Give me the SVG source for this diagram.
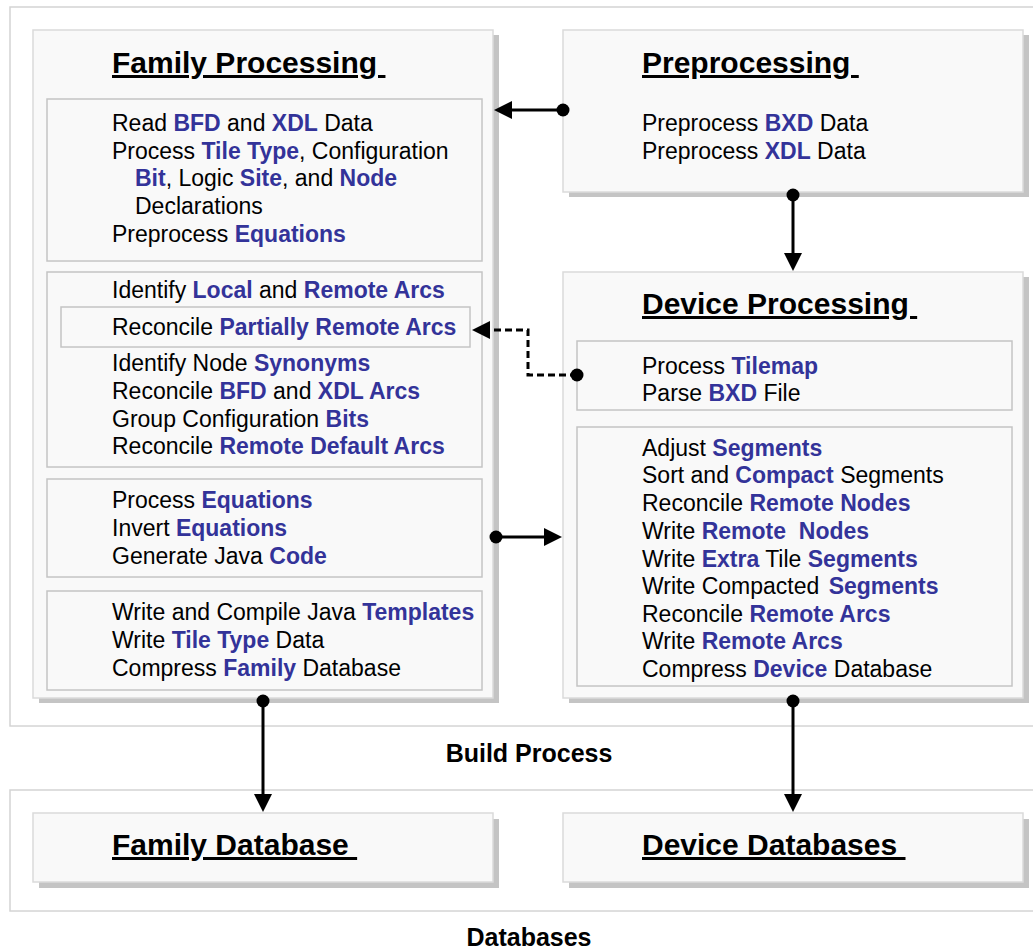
<svg xmlns="http://www.w3.org/2000/svg" width="1033" height="950" viewBox="0 0 1033 950">
<style>
text{font-family:"Liberation Sans",Arial,sans-serif;fill:#000}
.t{font-size:23px}
.b{font-weight:bold;fill:#333399}
.h{font-size:30px;font-weight:bold;text-decoration:underline}
.lbl{font-size:25px;font-weight:bold}
.frame{fill:#fff;stroke:#d4d4d4;stroke-width:1.5}
.box{fill:#f9f9f9;stroke:#dadada;stroke-width:1.5}
.sub{fill:#f9f9f9;stroke:#c4c4c4;stroke-width:1.5}
.sh{fill:#c4c4c4}
.c{fill:none;stroke:#000;stroke-width:3}
.d{stroke-dasharray:7,4}
</style>
<defs>
<marker id="arr" markerUnits="userSpaceOnUse" viewBox="0 0 18 18" refX="0" refY="9" markerWidth="18" markerHeight="18" orient="auto">
<path d="M0,0 L18,9 L0,18 z" fill="#000"/>
</marker>
<marker id="dot" markerUnits="userSpaceOnUse" viewBox="0 0 14 14" refX="7" refY="7" markerWidth="14" markerHeight="14">
<circle cx="7" cy="7" r="6.5" fill="#000"/>
</marker>
</defs>

<g id="build-frame">
<rect class="frame" x="10" y="7" width="1035" height="719"/>
<text class="lbl" x="529" y="762" text-anchor="middle">Build Process</text>
</g>
<g id="databases-frame">
<rect class="frame" x="10" y="790" width="1035" height="121"/>
<text class="lbl" x="529" y="946" text-anchor="middle">Databases</text>
</g>

<g id="family-processing">
<rect class="sh" x="39" y="35" width="460" height="668"/>
<rect class="box" x="33" y="30" width="460" height="668"/>
<text class="h" x="112" y="73">Family Processing&#160;</text>
<rect class="sub" x="47" y="99" width="435" height="162"/>
<text class="t" x="112" y="131">Read <tspan class="b">BFD</tspan> and <tspan class="b">XDL</tspan> Data</text>
<text class="t" x="112" y="159">Process <tspan class="b">Tile Type</tspan>, Configuration</text>
<text class="t" x="135" y="186"><tspan class="b">Bit</tspan>, Logic <tspan class="b">Site</tspan>, and <tspan class="b">Node</tspan></text>
<text class="t" x="135" y="214">Declarations</text>
<text class="t" x="112" y="242">Preprocess <tspan class="b">Equations</tspan></text>
<rect class="sub" x="47" y="272" width="435" height="195"/>
<text class="t" x="112" y="298">Identify <tspan class="b">Local</tspan> and <tspan class="b">Remote Arcs</tspan></text>
<rect class="sub" x="61" y="307" width="409" height="40"/>
<text class="t" x="112" y="335">Reconcile <tspan class="b">Partially Remote Arcs</tspan></text>
<text class="t" x="112" y="371">Identify Node <tspan class="b">Synonyms</tspan></text>
<text class="t" x="112" y="399">Reconcile <tspan class="b">BFD</tspan> and <tspan class="b">XDL Arcs</tspan></text>
<text class="t" x="112" y="427">Group Configuration <tspan class="b">Bits</tspan></text>
<text class="t" x="112" y="454">Reconcile <tspan class="b">Remote Default Arcs</tspan></text>
<rect class="sub" x="47" y="479" width="435" height="98"/>
<text class="t" x="112" y="508">Process <tspan class="b">Equations</tspan></text>
<text class="t" x="112" y="536">Invert <tspan class="b">Equations</tspan></text>
<text class="t" x="112" y="564">Generate Java <tspan class="b">Code</tspan></text>
<rect class="sub" x="47" y="591" width="435" height="99"/>
<text class="t" x="112" y="620">Write and Compile Java <tspan class="b">Templates</tspan></text>
<text class="t" x="112" y="648">Write <tspan class="b">Tile Type</tspan> Data</text>
<text class="t" x="112" y="676">Compress <tspan class="b">Family</tspan> Database</text>
</g>

<g id="preprocessing">
<rect class="sh" x="569" y="35" width="460" height="162"/>
<rect class="box" x="563" y="30" width="460" height="162"/>
<text class="h" x="642" y="73">Preprocessing&#160;</text>
<text class="t" x="642" y="131">Preprocess <tspan class="b">BXD</tspan> Data</text>
<text class="t" x="642" y="159">Preprocess <tspan class="b">XDL</tspan> Data</text>
</g>

<g id="device-processing">
<rect class="sh" x="569" y="277" width="460" height="426"/>
<rect class="box" x="563" y="272" width="460" height="426"/>
<text class="h" x="642" y="314">Device Processing&#160;</text>
<rect class="sub" x="577" y="341" width="435" height="69"/>
<text class="t" x="642" y="374">Process <tspan class="b">Tilemap</tspan></text>
<text class="t" x="642" y="401">Parse <tspan class="b">BXD</tspan> File</text>
<rect class="sub" x="577" y="427" width="435" height="259"/>
<text class="t" x="642" y="456">Adjust <tspan class="b">Segments</tspan></text>
<text class="t" x="642" y="483">Sort and <tspan class="b">Compact</tspan> Segments</text>
<text class="t" x="642" y="511">Reconcile <tspan class="b">Remote Nodes</tspan></text>
<text class="t" x="642" y="539">Write <tspan class="b">Remote &#160;Nodes</tspan></text>
<text class="t" x="642" y="567">Write <tspan class="b">Extra</tspan> Tile <tspan class="b">Segments</tspan></text>
<text class="t" x="642" y="594">Write Compacted <tspan class="b" dx="3">Segments</tspan></text>
<text class="t" x="642" y="622">Reconcile <tspan class="b">Remote Arcs</tspan></text>
<text class="t" x="642" y="649">Write <tspan class="b">Remote Arcs</tspan></text>
<text class="t" x="642" y="677">Compress <tspan class="b">Device</tspan> Database</text>
</g>

<g id="family-database">
<rect class="sh" x="39" y="819" width="460" height="69"/>
<rect class="box" x="33" y="813" width="460" height="69"/>
<text class="h" x="112" y="855">Family Database&#160;</text>
</g>

<g id="device-databases">
<rect class="sh" x="569" y="819" width="460" height="69"/>
<rect class="box" x="563" y="813" width="460" height="69"/>
<text class="h" x="642" y="855">Device Databases&#160;</text>
</g>

<g id="connectors">
<path class="c" d="M563,110 H512" marker-start="url(#dot)" marker-end="url(#arr)"/>
<path class="c" d="M793,195 V253" marker-start="url(#dot)" marker-end="url(#arr)"/>
<path class="c d" d="M577,375 H528 V330 H490" marker-start="url(#dot)" marker-end="url(#arr)"/>
<path class="c" d="M496,537 H544" marker-start="url(#dot)" marker-end="url(#arr)"/>
<path class="c" d="M263,701 V794" marker-start="url(#dot)" marker-end="url(#arr)"/>
<path class="c" d="M793,701 V794" marker-start="url(#dot)" marker-end="url(#arr)"/>
</g>
</svg>
